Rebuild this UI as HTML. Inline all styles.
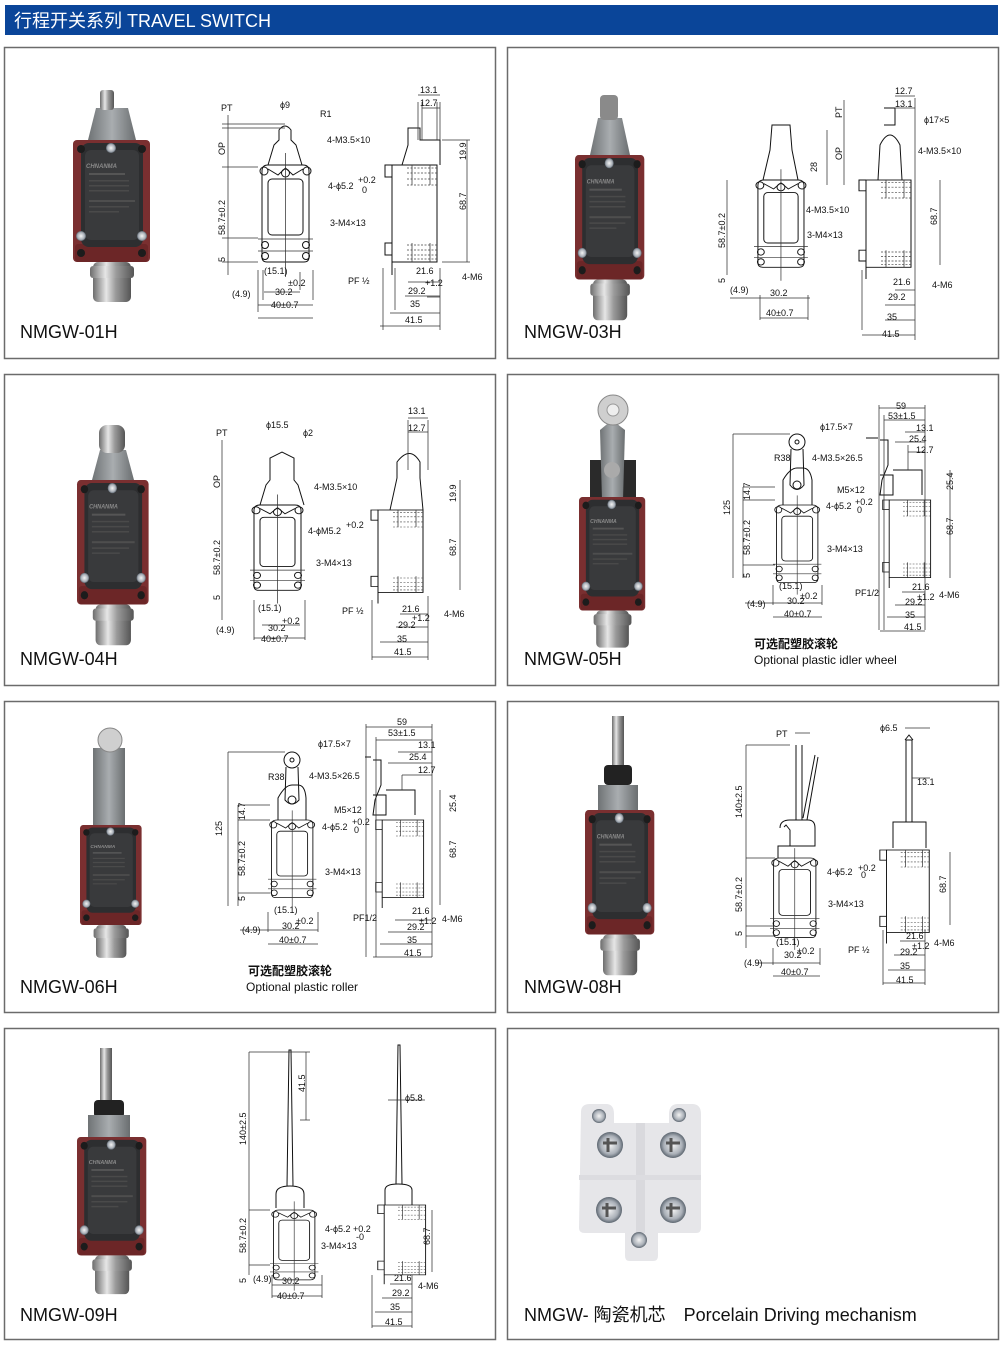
<!DOCTYPE html>
<html><head><meta charset="utf-8">
<style>
html,body{margin:0;padding:0;background:#fff;}
body{width:1000px;height:1343px;overflow:hidden;}
svg text{font-family:"Liberation Sans","Noto Sans CJK SC",sans-serif;}
.d{font-size:9px;fill:#111;}
.lbl{font-size:18px;fill:#111;}
.ln{stroke:#111;stroke-width:1;fill:none;}
.th{stroke:#333;stroke-width:0.75;fill:none;}
.ds{stroke:#444;stroke-width:0.7;fill:none;stroke-dasharray:2 1.5;}
</style></head><body>
<svg width="1000" height="1343" viewBox="0 0 1000 1343" xmlns="http://www.w3.org/2000/svg">
<defs>
<linearGradient id="met" x1="0" x2="1"><stop offset="0" stop-color="#6d6d6d"/><stop offset="0.35" stop-color="#e6e6e6"/><stop offset="0.6" stop-color="#9a9a9a"/><stop offset="1" stop-color="#555"/></linearGradient>
<linearGradient id="gry" x1="0" x2="1"><stop offset="0" stop-color="#6f7375"/><stop offset="0.5" stop-color="#a9adb0"/><stop offset="1" stop-color="#6a6e70"/></linearGradient>
<radialGradient id="scr"><stop offset="0" stop-color="#f4f4f4"/><stop offset="0.7" stop-color="#aab0b8"/><stop offset="1" stop-color="#5d6670"/></radialGradient>
<g id="ph">
<rect x="0" y="0" width="77" height="122" rx="4" fill="#7a2f30"/>
<rect x="2" y="104" width="73" height="18" rx="3" fill="#6c2627"/>
<rect x="8" y="3" width="62" height="104" rx="8" fill="#2d2e30"/>
<rect x="12" y="10" width="54" height="90" rx="6" fill="#393a3c"/>
<circle cx="8" cy="9" r="4" fill="#1c1c1c"/><circle cx="69" cy="9" r="4" fill="#1c1c1c"/>
<circle cx="8" cy="113" r="4" fill="#1c1c1c"/><circle cx="69" cy="113" r="4" fill="#1c1c1c"/>
<circle cx="38" cy="8" r="5" fill="url(#scr)"/><circle cx="8" cy="96" r="5" fill="url(#scr)"/><circle cx="69" cy="96" r="5" fill="url(#scr)"/>
<rect x="16" y="33" width="36" height="2" fill="#555"/><rect x="16" y="40" width="40" height="1.5" fill="#4a4a4a"/><rect x="16" y="45" width="40" height="1.5" fill="#4a4a4a"/><rect x="16" y="50" width="40" height="1.5" fill="#4a4a4a"/><rect x="16" y="60" width="46" height="2" fill="#4e4e4e"/><rect x="16" y="66" width="40" height="1.5" fill="#4a4a4a"/><rect x="16" y="71" width="30" height="1.5" fill="#4a4a4a"/>
<text x="13" y="28" font-size="6" fill="#8a8a8a" font-style="italic" font-weight="bold">CHNANMA</text>
<rect x="20" y="122" width="38" height="40" rx="5" fill="url(#met)"/>
<rect x="17" y="126" width="44" height="12" rx="3" fill="url(#met)"/>
</g>
<g id="fv">
<path class="ln" d="M4,6 L4,92 Q4,97 9,97 L46,97 Q51,97 51,92 L51,6 Q51,0 45,0 L10,0 Q4,0 4,6Z"/>
<rect class="ln" x="10" y="14" width="35" height="56" rx="4"/>
<circle class="ln" cx="6" cy="6" r="4"/><circle class="ln" cx="49" cy="6" r="4"/><circle class="ln" cx="27.5" cy="8" r="4"/>
<path class="ln" d="M10,4 L20,10 L27.5,3 L35,10 L45,4"/>
<circle class="ln" cx="7" cy="80" r="3.5"/><circle class="ln" cx="48" cy="80" r="3.5"/>
<circle class="ln" cx="7" cy="91" r="3.5"/><circle class="ln" cx="48" cy="91" r="3.5"/>
<line class="th" x1="0" y1="74" x2="55" y2="74"/><line class="th" x1="0" y1="86" x2="55" y2="86"/>
<line class="th" x1="27.5" y1="-12" x2="27.5" y2="112"/>
</g>
<g id="sv">
<rect class="ln" x="10" y="0" width="45" height="97"/>
<path class="ln" d="M10,0 L3,0 L3,12 L10,12 M10,78 L3,78 L3,90 L10,90"/>
<path class="ln" d="M10,97 L10,110"/>
<path class="ds" d="M25,3 H55 M25,8 H55 M25,14 H55 M25,20 H55 M25,80 H55 M25,85 H55 M25,90 H55 M25,94 H55"/>
<line class="th" x1="30" y1="0" x2="30" y2="20"/><line class="th" x1="48" y1="0" x2="48" y2="20"/>
<line class="th" x1="30" y1="78" x2="30" y2="97"/><line class="th" x1="48" y1="78" x2="48" y2="97"/>
</g>
<g id="sc"><circle r="13" fill="url(#scr)"/><path d="M-7,-2 H7 M-2,-7 V7" stroke="#555" stroke-width="3"/></g>
</defs>

<rect x="5" y="5" width="993" height="30" fill="#0a4599"/>
<text x="14" y="27" font-size="18" fill="#fff">行程开关系列 TRAVEL SWITCH</text>

<g fill="none" stroke="#6b6b6b" stroke-width="1.5">
<rect x="4.5" y="47.5" width="491" height="311"/>
<rect x="507.5" y="47.5" width="491" height="311"/>
<rect x="4.5" y="374.5" width="491" height="311"/>
<rect x="507.5" y="374.5" width="491" height="311"/>
<rect x="4.5" y="701.5" width="491" height="311"/>
<rect x="507.5" y="701.5" width="491" height="311"/>
<rect x="4.5" y="1028.5" width="491" height="311"/>
<rect x="507.5" y="1028.5" width="491" height="311"/>
</g>

<text class="lbl" x="20" y="338">NMGW-01H</text>
<text class="lbl" x="524" y="338">NMGW-03H</text>
<text class="lbl" x="20" y="665">NMGW-04H</text>
<text class="lbl" x="524" y="665">NMGW-05H</text>
<text class="lbl" x="20" y="993">NMGW-06H</text>
<text class="lbl" x="524" y="993">NMGW-08H</text>
<text class="lbl" x="20" y="1321">NMGW-09H</text>
<text class="lbl" x="524" y="1321">NMGW- 陶瓷机芯　Porcelain Driving mechanism</text>
<text x="754" y="648" font-size="12" font-weight="bold" fill="#111">可选配塑胶滚轮</text>
<text x="754" y="664" font-size="12" fill="#111">Optional plastic idler wheel</text>
<text x="248" y="975" font-size="12" font-weight="bold" fill="#111">可选配塑胶滚轮</text>
<text x="246" y="991" font-size="12" fill="#111">Optional plastic roller</text>

<path d="M88,140 L96,108 L128,108 L136,140Z" fill="url(#gry)"/><rect x="100" y="90" width="14" height="20" rx="3" fill="url(#met)"/>
<use href="#ph" transform="translate(73,140)"/>
<path d="M590,155 L598,118 L622,118 L630,155Z" fill="url(#gry)"/><rect x="600" y="95" width="18" height="25" rx="4" fill="#8a8a8a"/>
<use href="#ph" transform="translate(575,155) scale(0.9,1.02)"/>
<path d="M92,480 L100,450 L126,450 L134,480Z" fill="url(#gry)"/><rect x="99" y="425" width="26" height="28" rx="8" fill="url(#met)"/>
<use href="#ph" transform="translate(77,480) scale(0.93,1.02)"/>
<rect x="590" y="460" width="46" height="40" fill="#2a2a2a"/>
<path d="M600,430 L612,420 L625,430 L623,500 L602,500Z" fill="url(#gry)"/>
<circle cx="613" cy="410" r="15" fill="#cfcfcf" stroke="#888"/><circle cx="613" cy="410" r="6" fill="#eee" stroke="#999"/>
<circle cx="612" cy="470" r="8" fill="#aaa"/>
<use href="#ph" transform="translate(579,497) scale(0.86,0.93)"/>
<rect x="93" y="748" width="32" height="95" fill="url(#gry)"/><circle cx="110" cy="740" r="12" fill="#cfcfcf" stroke="#888"/>
<use href="#ph" transform="translate(80,825) scale(0.8,0.82)"/>
<rect x="612" y="716" width="12" height="50" fill="url(#met)"/><rect x="604" y="765" width="28" height="20" rx="4" fill="#222"/><rect x="598" y="785" width="40" height="25" fill="url(#gry)"/>
<use href="#ph" transform="translate(585,810) scale(0.9,1.02)"/>
<rect x="100" y="1048" width="12" height="55" fill="url(#met)"/><rect x="94" y="1100" width="30" height="18" rx="4" fill="#222"/><rect x="88" y="1115" width="42" height="22" fill="url(#gry)"/>
<use href="#ph" transform="translate(77,1137) scale(0.9,0.97)"/>

<!-- porcelain -->
<path d="M581,1112 Q581,1104 590,1104 L606,1104 Q614,1104 614,1114 L614,1123 L669,1123 L669,1114 Q669,1104 678,1104 L692,1104 Q701,1104 701,1114 L701,1228 Q701,1233 696,1233 L658,1233 L658,1256 Q658,1261 653,1261 L630,1261 Q625,1261 625,1256 L625,1233 L585,1233 Q579,1233 579,1228 Z" fill="#e6e6e9"/>
<rect x="636" y="1123" width="9" height="110" fill="#d9d9dd"/>
<rect x="579" y="1175" width="122" height="5" fill="#dcdce0"/>
<circle cx="599" cy="1116" r="7" fill="url(#scr)"/><circle cx="679" cy="1115" r="7" fill="url(#scr)"/><circle cx="639" cy="1240" r="8" fill="url(#scr)"/>
<use href="#sc" transform="translate(610,1145)"/><use href="#sc" transform="translate(673,1145)"/>
<use href="#sc" transform="translate(609,1210)"/><use href="#sc" transform="translate(673,1210)"/>

<!-- P1 -->
<use href="#fv" transform="translate(258,165)"/>
<path class="ln" d="M268,165 L274,145 L279,140 L279,130 Q285,122 291,130 L291,140 L296,145 L302,165"/>
<use href="#sv" transform="translate(382,165)"/>
<path class="ln" d="M402,165 L408,145 L408,128 L420,128 L420,140 L440,140 L440,165"/>
<path class="th" d="M228,115 V275 M222,124 H285 M222,128 H285 M222,167 H258 M222,238 H258 M222,262 H258 M263,300 V270 M313,300 V270 M258,312 V270 M300,272 V290 M467,140 V262 M442,140 H470 M442,262 H470 M383,330 V268 M440,330 V268 M395,310 V268 M427,297 H440 M418,102 V140 M422,102 V140 M437,102 V140 M440,102 V140"/>
<path class="th" d="M258,305 H313 M264,292 H300 M258,318 H313 M380,326 H440 M390,313 H440 M405,296 H440 M408,282 H440 M418,95 H440 M422,108 H440"/>
<text class="d" x="221" y="111">PT</text><text class="d" x="280" y="108">ϕ9</text><text class="d" x="320" y="117">R1</text>
<text class="d" x="327" y="143">4-M3.5×10</text><text class="d" x="328" y="189">4-ϕ5.2</text><text class="d" x="358" y="183" font-size="8">+0.2</text><text class="d" x="362" y="193" font-size="8">0</text>
<text class="d" x="330" y="226">3-M4×13</text><text class="d" x="264" y="274">(15.1)</text><text class="d" x="232" y="297">(4.9)</text>
<text class="d" x="275" y="295">30.2</text><text class="d" x="288" y="286" font-size="8">±0.2</text><text class="d" x="271" y="308">40±0.7</text>
<text class="d" x="348" y="284">PF ½</text><text class="d" x="416" y="274">21.6</text><text class="d" x="408" y="294">29.2</text><text class="d" x="425" y="286" font-size="8">+1.2</text>
<text class="d" x="410" y="307">35</text><text class="d" x="405" y="323">41.5</text><text class="d" x="462" y="280">4-M6</text>
<text class="d" x="420" y="93">13.1</text><text class="d" x="420" y="106">12.7</text>
<text class="d" transform="translate(225,155) rotate(-90)">OP</text><text class="d" transform="translate(225,235) rotate(-90)">58.7±0.2</text><text class="d" transform="translate(225,262) rotate(-90)">5</text>
<text class="d" transform="translate(466,160) rotate(-90)">19.9</text><text class="d" transform="translate(466,210) rotate(-90)">68.7</text>

<!-- P3 -->
<use href="#fv" transform="translate(754,180) scale(0.98,0.9)"/>
<path class="ln" d="M763,180 L770,150 L772,125 L790,125 L792,150 L798,180"/>
<use href="#sv" transform="translate(856,180) scale(1,0.9)"/>
<path class="ln" d="M878,180 L880,145 Q890,125 900,145 L902,180 M884,108 L895,108 L895,125 L884,125"/>
<path class="th" d="M727,180 V275 M760,295 V320 M808,295 V320 M844,100 V185 M827,130 V185 M940,180 V265 M915,98 V340 M862,330 V270"/>
<path class="th" d="M760,318 H808 M730,298 H810 M862,335 H915 M885,320 H915 M885,305 H915 M895,290 H915 M895,96 H915 M895,108 H915"/>
<text class="d" x="806" y="213">4-M3.5×10</text><text class="d" x="807" y="238">3-M4×13</text><text class="d" x="924" y="123">ϕ17×5</text><text class="d" x="918" y="154">4-M3.5×10</text>
<text class="d" x="730" y="293">(4.9)</text><text class="d" x="770" y="296">30.2</text><text class="d" x="766" y="316">40±0.7</text>
<text class="d" x="893" y="285">21.6</text><text class="d" x="888" y="300">29.2</text><text class="d" x="887" y="320">35</text><text class="d" x="882" y="337">41.5</text><text class="d" x="932" y="288">4-M6</text>
<text class="d" x="895" y="94">12.7</text><text class="d" x="895" y="107">13.1</text>
<text class="d" transform="translate(725,248) rotate(-90)">58.7±0.2</text><text class="d" transform="translate(725,283) rotate(-90)">5</text>
<text class="d" transform="translate(817,172) rotate(-90)">28</text><text class="d" transform="translate(842,160) rotate(-90)">OP</text><text class="d" transform="translate(842,118) rotate(-90)">PT</text><text class="d" transform="translate(937,225) rotate(-90)">68.7</text>

<!-- P4 -->
<use href="#fv" transform="translate(250,505) scale(1,0.88)"/>
<path class="ln" d="M260,505 L266,485 L270,480 L270,458 L282,452 L294,458 L294,480 L298,485 L304,505"/>
<use href="#sv" transform="translate(368,510) scale(1,0.85)"/>
<path class="ln" d="M390,510 L397,478 L397,462 Q410,445 420,462 L420,478 L423,510"/>
<path class="th" d="M222,440 V620 M254,640 V600 M305,640 V600 M460,480 V590 M372,660 V600 M428,660 V596 M408,420 V470 M428,420 V470"/>
<path class="th" d="M254,638 H305 M262,625 H300 M372,657 H428 M380,642 H428 M396,627 H428 M400,614 H428 M408,418 H428 M408,432 H428"/>
<text class="d" x="216" y="436">PT</text><text class="d" x="266" y="428">ϕ15.5</text><text class="d" x="303" y="436">ϕ2</text>
<text class="d" x="314" y="490">4-M3.5×10</text><text class="d" x="308" y="534">4-ϕM5.2</text><text class="d" x="346" y="528" font-size="8">+0.2</text>
<text class="d" x="316" y="566">3-M4×13</text><text class="d" x="258" y="611">(15.1)</text><text class="d" x="216" y="633">(4.9)</text>
<text class="d" x="268" y="631">30.2</text><text class="d" x="282" y="624" font-size="8">+0.2</text><text class="d" x="261" y="642">40±0.7</text>
<text class="d" x="342" y="614">PF ½</text><text class="d" x="402" y="612">21.6</text><text class="d" x="398" y="628">29.2</text><text class="d" x="412" y="621" font-size="8">+1.2</text>
<text class="d" x="397" y="642">35</text><text class="d" x="394" y="655">41.5</text><text class="d" x="444" y="617">4-M6</text>
<text class="d" x="408" y="414">13.1</text><text class="d" x="408" y="431">12.7</text>
<text class="d" transform="translate(220,488) rotate(-90)">OP</text><text class="d" transform="translate(220,575) rotate(-90)">58.7±0.2</text><text class="d" transform="translate(220,600) rotate(-90)">5</text>
<text class="d" transform="translate(456,502) rotate(-90)">19.9</text><text class="d" transform="translate(456,556) rotate(-90)">68.7</text>

<!-- P5 -->
<use href="#fv" transform="translate(773,505) scale(0.88,0.8)"/>
<path class="ln" d="M783,505 L783,480 Q790,468 797,468 L803,468 Q810,468 812,480 L812,505"/>
<circle class="ln" cx="797" cy="442" r="8"/><circle class="ln" cx="797" cy="442" r="2"/><path class="ln" d="M791,449 L790,485 Q797,494 804,485 L803,449"/><circle class="ln" cx="797" cy="485" r="4"/>
<use href="#sv" transform="translate(880,500) scale(0.92,0.8)"/>
<path class="ln" d="M880,440 L888,440 L888,465 L882,480 L880,495 L893,495 L893,475 L880,475 M893,470 H922 V495 M866,438 H878"/>
<path class="th" d="M733,434 V578 M743,487 V578 M773,605 V585 M822,605 V585 M950,470 V578 M879,405 V630 M884,415 V630 M925,405 V630 M908,445 V470"/>
<path class="th" d="M733,434 H790 M743,487 H775 M743,500 H775 M743,565 H775 M745,603 H822 M773,617 H822 M879,408 H925 M884,420 H925 M905,432 H925 M895,442 H925 M908,452 H925 M880,631 H925 M887,617 H925 M895,605 H925 M902,592 H925"/>
<text class="d" x="820" y="430">ϕ17.5×7</text><text class="d" x="774" y="461">R38</text><text class="d" x="812" y="461">4-M3.5×26.5</text><text class="d" x="837" y="493">M5×12</text>
<text class="d" x="826" y="509">4-ϕ5.2</text><text class="d" x="855" y="505" font-size="6">+0.2</text><text class="d" x="857" y="513" font-size="6">0</text><text class="d" x="827" y="552">3-M4×13</text>
<text class="d" x="779" y="589">(15.1)</text><text class="d" x="747" y="607">(4.9)</text><text class="d" x="787" y="604">30.2</text><text class="d" x="800" y="599" font-size="6">±0.2</text><text class="d" x="784" y="617">40±0.7</text>
<text class="d" x="855" y="596">PF1/2</text><text class="d" x="912" y="590">21.6</text><text class="d" x="905" y="605">29.2</text><text class="d" x="917" y="600" font-size="6">±1.2</text><text class="d" x="905" y="618">35</text><text class="d" x="904" y="630">41.5</text><text class="d" x="939" y="598">4-M6</text>
<text class="d" x="896" y="409">59</text><text class="d" x="888" y="419">53±1.5</text><text class="d" x="916" y="431">13.1</text><text class="d" x="909" y="442">25.4</text><text class="d" x="916" y="453">12.7</text>
<text class="d" transform="translate(730,515) rotate(-90)">125</text><text class="d" transform="translate(750,500) rotate(-90)">14.7</text><text class="d" transform="translate(750,555) rotate(-90)">58.7±0.2</text><text class="d" transform="translate(750,578) rotate(-90)">5</text>
<text class="d" transform="translate(953,490) rotate(-90)">25.4</text><text class="d" transform="translate(953,535) rotate(-90)">68.7</text>

<!-- P6 -->
<use href="#fv" transform="translate(268,820) scale(0.88,0.8)"/>
<path class="ln" d="M278,820 L278,798 Q285,785 292,785 L298,785 Q305,785 306,798 L306,820"/>
<circle class="ln" cx="292" cy="760" r="8"/><circle class="ln" cx="292" cy="760" r="2"/><path class="ln" d="M286,767 L285,800 Q292,808 299,800 L298,767"/><circle class="ln" cx="292" cy="800" r="4"/>
<use href="#sv" transform="translate(373,820) scale(0.92,0.8)"/>
<path class="ln" d="M373,760 L381,760 L381,785 L375,800 L373,815 L386,815 L386,795 L373,795 M386,790 H415 V815 M365,757 H371"/>
<path class="th" d="M228,752 V906 M238,805 V906 M268,932 V912 M318,932 V912 M440,790 V905 M366,724 V957 M376,737 V957 M432,724 V957 M402,775 V790"/>
<path class="th" d="M228,752 H285 M238,805 H270 M238,820 H270 M238,893 H270 M240,930 H318 M268,944 H318 M366,727 H432 M376,740 H432 M398,752 H432 M388,763 H432 M402,775 H432 M373,957 H432 M380,944 H432 M388,932 H432 M395,920 H432"/>
<text class="d" x="318" y="747">ϕ17.5×7</text><text class="d" x="268" y="780">R38</text><text class="d" x="309" y="779">4-M3.5×26.5</text><text class="d" x="334" y="813">M5×12</text>
<text class="d" x="322" y="830">4-ϕ5.2</text><text class="d" x="352" y="825" font-size="6">+0.2</text><text class="d" x="354" y="833" font-size="6">0</text><text class="d" x="325" y="875">3-M4×13</text>
<text class="d" x="274" y="913">(15.1)</text><text class="d" x="242" y="933">(4.9)</text><text class="d" x="282" y="929">30.2</text><text class="d" x="296" y="924" font-size="6">±0.2</text><text class="d" x="279" y="943">40±0.7</text>
<text class="d" x="353" y="921">PF1/2</text><text class="d" x="412" y="914">21.6</text><text class="d" x="407" y="930">29.2</text><text class="d" x="419" y="924" font-size="6">±1.2</text><text class="d" x="407" y="943">35</text><text class="d" x="404" y="956">41.5</text><text class="d" x="442" y="922">4-M6</text>
<text class="d" x="397" y="725">59</text><text class="d" x="388" y="736">53±1.5</text><text class="d" x="418" y="748">13.1</text><text class="d" x="409" y="760">25.4</text><text class="d" x="418" y="773">12.7</text>
<text class="d" transform="translate(222,836) rotate(-90)">125</text><text class="d" transform="translate(245,820) rotate(-90)">14.7</text><text class="d" transform="translate(245,876) rotate(-90)">58.7±0.2</text><text class="d" transform="translate(245,901) rotate(-90)">5</text>
<text class="d" transform="translate(456,812) rotate(-90)">25.4</text><text class="d" transform="translate(456,858) rotate(-90)">68.7</text>

<!-- P8 -->
<use href="#fv" transform="translate(770,858) scale(0.9,0.82)"/>
<path class="ln" d="M778,858 L778,846 L790,846 L790,830 L786,825 L784,827 M780,828 Q780,820 790,820 L808,820 Q815,820 815,828 L815,846 L778,846 M796,745 L796,820 M802,745 L802,820 M803,818 L815,755 M807,820 L818,757"/>
<use href="#sv" transform="translate(877,850) scale(0.95,0.85)"/>
<path class="ln" d="M893,848 L893,822 L926,822 L926,848 M906,822 V740 L912,740 V822 M905,740 L909,735 L913,740"/>
<path class="th" d="M746,745 V948 M773,965 V948 M820,965 V948 M950,852 V925 M883,985 V930 M925,985 V930 M795,733 H810 M905,728 H930 M912,778 H930"/>
<path class="th" d="M746,745 H790 M746,858 H775 M746,926 H775 M746,936 H775 M755,963 H820 M773,976 H820 M883,983 H925 M888,970 H925 M894,955 H925 M900,941 H925"/>
<text class="d" x="776" y="737">PT</text><text class="d" x="880" y="731">ϕ6.5</text><text class="d" x="917" y="785">13.1</text>
<text class="d" x="827" y="875">4-ϕ5.2</text><text class="d" x="858" y="871" font-size="6">+0.2</text><text class="d" x="861" y="878" font-size="6">0</text><text class="d" x="828" y="907">3-M4×13</text>
<text class="d" x="776" y="945">(15.1)</text><text class="d" x="744" y="966">(4.9)</text><text class="d" x="784" y="958">30.2</text><text class="d" x="797" y="954" font-size="6">±0.2</text><text class="d" x="781" y="975">40±0.7</text>
<text class="d" x="848" y="953">PF ½</text><text class="d" x="906" y="939">21.6</text><text class="d" x="900" y="955">29.2</text><text class="d" x="912" y="949" font-size="6">±1.2</text><text class="d" x="900" y="969">35</text><text class="d" x="896" y="983">41.5</text><text class="d" x="934" y="946">4-M6</text>
<text class="d" transform="translate(742,818) rotate(-90)">140±2.5</text><text class="d" transform="translate(742,912) rotate(-90)">58.7±0.2</text><text class="d" transform="translate(742,936) rotate(-90)">5</text>
<text class="d" transform="translate(946,893) rotate(-90)">68.7</text>

<!-- P9 -->
<use href="#fv" transform="translate(270,1210) scale(0.88,0.72)"/>
<path class="ln" d="M276,1208 L276,1194 Q276,1186 290,1186 Q304,1186 304,1194 L304,1208 M287,1186 L289,1050 L291,1050 L293,1186"/>
<use href="#sv" transform="translate(375,1205) scale(0.92,0.72)"/>
<path class="ln" d="M385,1205 L385,1190 Q385,1184 398,1184 Q412,1184 412,1190 L412,1205 M396,1184 L398,1045 L400,1045 L402,1184"/>
<path class="th" d="M249,1052 V1275 M306,1052 V1120 M272,1298 V1275 M322,1298 V1275 M432,1210 V1272 M372,1328 V1275 M412,1328 V1275 M388,1100 H425"/>
<path class="th" d="M249,1052 H310 M249,1210 H270 M249,1265 H270 M300,1120 H310 M272,1296 H322 M272,1285 H322 M372,1326 H412 M375,1312 H412 M382,1298 H412 M390,1284 H412"/>
<text class="d" x="405" y="1101">ϕ5.8</text>
<text class="d" x="325" y="1232">4-ϕ5.2</text><text class="d" x="353" y="1232" font-size="7">+0.2</text><text class="d" x="356" y="1240" font-size="7">-0</text><text class="d" x="321" y="1249">3-M4×13</text>
<text class="d" x="253" y="1282">(4.9)</text><text class="d" x="282" y="1284">30.2</text><text class="d" x="277" y="1299">40±0.7</text>
<text class="d" x="394" y="1281">21.6</text><text class="d" x="392" y="1296">29.2</text><text class="d" x="390" y="1310">35</text><text class="d" x="385" y="1325">41.5</text><text class="d" x="418" y="1289">4-M6</text>
<text class="d" transform="translate(246,1145) rotate(-90)">140±2.5</text><text class="d" transform="translate(246,1253) rotate(-90)">58.7±0.2</text><text class="d" transform="translate(246,1283) rotate(-90)">5</text>
<text class="d" transform="translate(305,1092) rotate(-90)">41.5</text><text class="d" transform="translate(430,1245) rotate(-90)">68.7</text>
</svg>
</body></html>
